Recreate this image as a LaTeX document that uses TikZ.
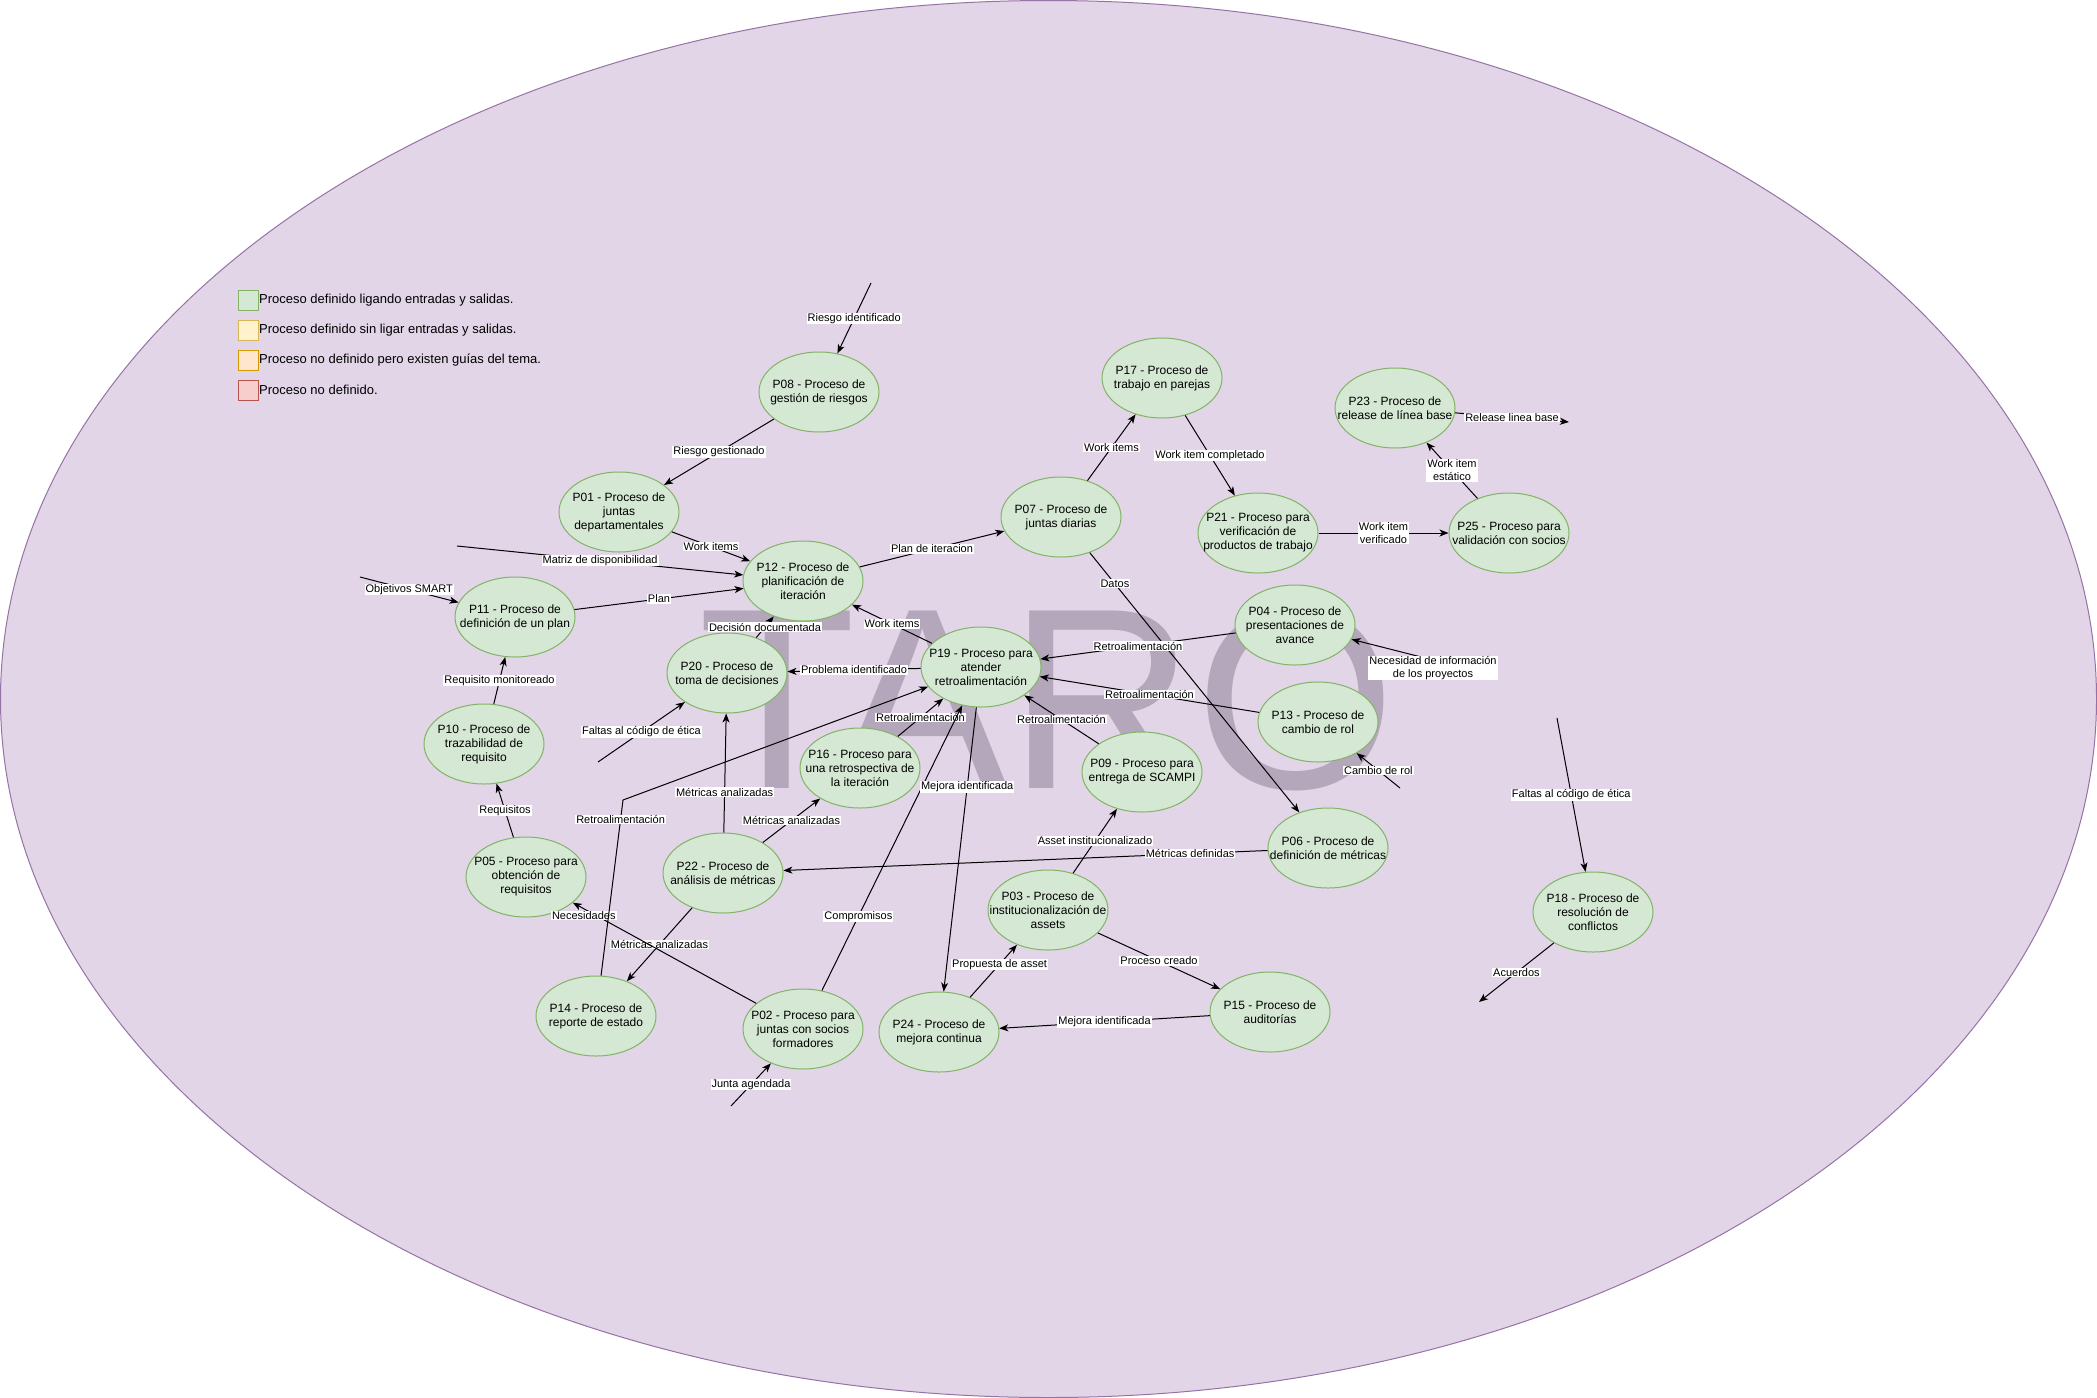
\documentclass[tikz,border=0pt]{standalone}
\usepackage{fontspec}
\setmainfont{Liberation Sans}
\usetikzlibrary{arrows.meta,shapes.geometric}
\definecolor{bigfill}{HTML}{E1D5E7}
\definecolor{bigline}{HTML}{9673A6}
\definecolor{procfill}{HTML}{D5E8D4}
\definecolor{procline}{HTML}{82B366}
\definecolor{yelfill}{HTML}{FFF2CC}
\definecolor{yelline}{HTML}{D6B656}
\definecolor{orafill}{HTML}{FFE6CC}
\definecolor{oraline}{HTML}{D79B00}
\definecolor{redfill}{HTML}{F8CECC}
\definecolor{redline}{HTML}{B85450}
\definecolor{tarocol}{RGB}{180,166,187}
\begin{document}
\begin{tikzpicture}[x=1pt,y=-1pt,
  proctxt/.style={align=center, font=\fontsize{12}{14}\selectfont, inner sep=0pt},
  proc/.style={ellipse, draw=procline, fill=procfill, line width=1pt,
    minimum width=120pt, minimum height=80pt, inner sep=0pt,
    label={[proctxt]center:#1}},
  arr/.style={draw, line width=1pt, -{Stealth[length=9pt,width=7pt,inset=2.5pt]}},
  lbl/.style={fill=white, font=\fontsize{11}{13}\selectfont, inner xsep=1pt,
    inner ysep=0.5pt, align=center},
  legsq/.style={rectangle, line width=1pt, minimum size=20pt, inner sep=0pt},
  legtxt/.style={anchor=west, inner sep=0pt, font=\fontsize{13}{15}\selectfont}
]
\useasboundingbox (0,0) rectangle (2097,1398);
\fill[white] (0,0) rectangle (2097,1398);
\draw[fill=bigfill, draw=bigline, line width=1pt] (1048.5,699) ellipse [x radius=1048pt, y radius=698.5pt];

% watermark
\node[anchor=base west, inner sep=0pt, text=tarocol, font=\fontsize{258}{260}\selectfont] (taro) at (698,788) {TARO};

% legend
\node[legsq, fill=procfill, draw=procline] (L1) at (248,300) {};
\node[legtxt] (L1t) at (259,300) {Proceso definido ligando entradas y salidas.};
\node[legsq, fill=yelfill, draw=yelline] (L2) at (248,330) {};
\node[legtxt] (L2t) at (259,330) {Proceso definido sin ligar entradas y salidas.};
\node[legsq, fill=orafill, draw=oraline] (L3) at (248,360) {};
\node[legtxt] (L3t) at (259,360) {Proceso no definido pero existen guías del tema.};
\node[legsq, fill=redfill, draw=redline] (L4) at (248,390) {};
\node[legtxt] (L4t) at (259,390) {Proceso no definido.};

% processes
\node[proc={P08 - Proceso de\\gestión de riesgos}] (P08) at (819,392) {};
\node[proc={P01 - Proceso de\\juntas\\departamentales}] (P01) at (619,512) {};
\node[proc={P12 - Proceso de\\planificación de\\iteración}] (P12) at (803,581) {};
\node[proc={P11 - Proceso de\\definición de un plan}] (P11) at (515,617) {};
\node[proc={P10 - Proceso de\\trazabilidad de\\requisito}] (P10) at (484,744) {};
\node[proc={P20 - Proceso de\\toma de decisiones}] (P20) at (727,673) {};
\node[proc={P05 - Proceso para\\obtención de\\requisitos}] (P05) at (526,877) {};
\node[proc={P22 - Proceso de\\análisis de métricas}] (P22) at (723,873) {};
\node[proc={P14 - Proceso de\\reporte de estado}] (P14) at (596,1016) {};
\node[proc={P02 - Proceso para\\juntas con socios\\formadores}] (P02) at (803,1029) {};
\node[proc={P24 - Proceso de\\mejora continua}] (P24) at (939,1032) {};
\node[proc={P03 - Proceso de\\institucionalización de\\assets}] (P03) at (1048,910) {};
\node[proc={P15 - Proceso de\\auditorías}] (P15) at (1270,1012) {};
\node[proc={P16 - Proceso para\\una retrospectiva de\\la iteración}] (P16) at (860,768) {};
\node[proc={P19 - Proceso para\\atender\\retroalimentación}] (P19) at (981,667) {};
\node[proc={P09 - Proceso para\\entrega de SCAMPI}] (P09) at (1142,772) {};
\node[proc={P06 - Proceso de\\definición de métricas}] (P06) at (1328,848) {};
\node[proc={P13 - Proceso de\\cambio de rol}] (P13) at (1318,722) {};
\node[proc={P04 - Proceso de\\presentaciones de\\avance}] (P04) at (1295,625) {};
\node[proc={P07 - Proceso de\\juntas diarias}] (P07) at (1061,517) {};
\node[proc={P17 - Proceso de\\trabajo en parejas}] (P17) at (1162,378) {};
\node[proc={P21 - Proceso para\\verificación de\\productos de trabajo}] (P21) at (1258,533) {};
\node[proc={P23 - Proceso de\\release de línea base}] (P23) at (1395,408) {};
\node[proc={P25 - Proceso para\\validación con socios}] (P25) at (1509,533) {};
\node[proc={P18 - Proceso de\\resolución de\\conflictos}] (P18) at (1593,912) {};

% free ends
\coordinate (F08) at (871,283);
\coordinate (Fmat) at (457,546);
\coordinate (Fobj) at (360,577);
\coordinate (Ffal1) at (598,762);
\coordinate (Fjun) at (731,1106);
\coordinate (Fcam) at (1400,788);
\coordinate (Fnec) at (1433,660);
\coordinate (Ffal2) at (1557,718);
\coordinate (Facu) at (1479,1002);
\coordinate (Frel) at (1569,422);
\coordinate (W14) at (623,800);

% connectors
\draw[arr] (F08) -- node[lbl]{Riesgo identificado} (P08);
\draw[arr] (P08) -- node[lbl]{Riesgo gestionado} (P01);
\draw[arr] (P01) -- node[lbl]{Work items} (P12);
\draw[arr] (Fmat) -- node[lbl]{Matriz de disponibilidad} (P12);
\draw[arr] (Fobj) -- node[lbl]{Objetivos SMART} (P11);
\draw[arr] (P11) -- node[lbl]{Plan} (P12);
\draw[arr] (P12) -- node[lbl]{Plan de iteracion} (P07);
\draw[arr] (P07) -- node[lbl]{Work items} (P17);
\draw[arr] (P17) -- node[lbl]{Work item completado} (P21);
\draw[arr] (P21) -- node[lbl]{Work item\\verificado} (P25);
\draw[arr] (P25) -- node[lbl]{Work item\\estático} (P23);
\draw[arr] (P23) -- node[lbl]{Release linea base} (Frel);
\draw[arr] (P07) -- node[lbl,pos=0.12]{Datos} (P06);
\draw[arr] (P04) -- node[lbl]{Retroalimentación} (P19);
\draw[arr] (P13) -- node[lbl]{Retroalimentación} (P19);
\draw[arr] (P09) -- node[lbl]{Retroalimentación} (P19);
\draw[arr] (P16) -- node[lbl]{Retroalimentación} (P19);
\draw[arr] (P19) -- node[lbl]{Work items} (P12);
\draw[arr] (P19) -- node[lbl]{Problema identificado} (P20);
\draw[arr] (P20) -- node[lbl]{Decisión documentada} (P12);
\draw[arr] (Ffal1) -- node[lbl]{Faltas al código de ética} (P20);
\draw[arr] (P10) -- node[lbl]{Requisito monitoreado} (P11);
\draw[arr] (P05) -- node[lbl]{Requisitos} (P10);
\draw[arr] (P22) -- node[lbl,pos=0.34]{Métricas analizadas} (P20);
\draw[arr] (P22) -- node[lbl]{Métricas analizadas} (P16);
\draw[arr] (P22) -- node[lbl]{Métricas analizadas} (P14);
\draw[arr] (P02) -- node[lbl,pos=0.94,yshift=-7pt]{Necesidades} (P05);
\draw[arr] (P14) -- node[lbl,pos=0.89]{Retroalimentación} (W14) -- (P19);
\draw[arr] (P02) -- node[lbl,pos=0.26]{Compromisos} (P19);
\draw[arr] (P19) -- node[lbl,pos=0.28]{Mejora identificada} (P24);
\draw[arr] (P06) -- node[lbl,pos=0.16]{Métricas definidas} (P22);
\draw[arr] (P03) -- node[lbl]{Asset institucionalizado} (P09);
\draw[arr] (P03) -- node[lbl]{Proceso creado} (P15);
\draw[arr] (P15) -- node[lbl]{Mejora identificada} (P24);
\draw[arr] (P24) -- node[lbl,pos=0.63]{Propuesta de asset} (P03);
\draw[arr] (Fjun) -- node[lbl]{Junta agendada} (P02);
\draw[arr] (Fcam) -- node[lbl]{Cambio de rol} (P13);
\draw[arr] (Fnec) -- node[lbl,pos=0,yshift=-8pt]{Necesidad de información\\de los proyectos} (P04);
\draw[arr] (Ffal2) -- node[lbl]{Faltas al código de ética} (P18);
\draw[arr] (P18) -- node[lbl]{Acuerdos} (Facu);
\end{tikzpicture}
\end{document}
